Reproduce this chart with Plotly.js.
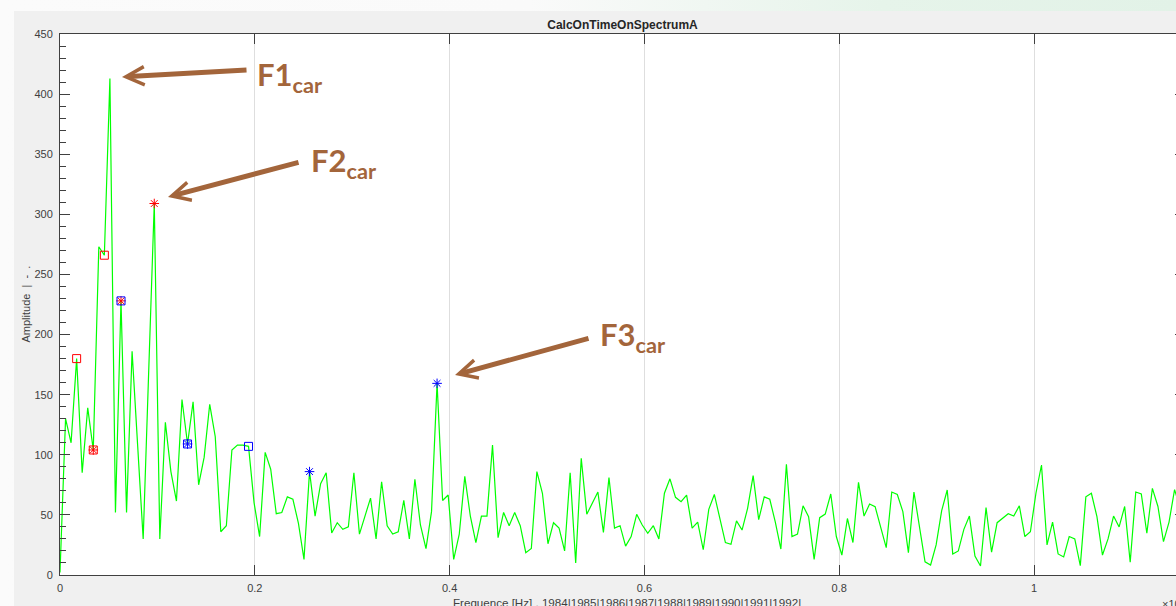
<!DOCTYPE html>
<html>
<head>
<meta charset="utf-8">
<script src="https://cdn.plot.ly/plotly-3.0.1.min.js"></script>
<style>
  html, body { margin: 0; padding: 0; width: 1176px; height: 606px; overflow: hidden;
    background: linear-gradient(90deg, #fbfbfb 0%, #fafafa 45%, #e6f4ea 75%, #e2f2e7 100%); }
  #chart { position: absolute; left: 14px; top: 11px; width: 1200px; height: 615px; }
</style>
</head>
<body>
<div id="chart"></div>
<script>
// ---- data ----
const chartTitle = "CalcOnTimeOnSpectrumA";
const xLabel = "Frequence [Hz] , 1984|1985|1986|1987|1988|1989|1990|1991|1992|";
const yLabel = "Amplitude  |  -  .";
const freqStep = 0.005693;   // spacing of the spectrum bins (axis units)
const amplitude = [
  2, 130, 110, 180, 85, 139, 104, 273, 266, 413,
  52, 228, 52, 186, 108, 30, 170, 309, 30, 127,
  86, 61.5, 146, 109, 144, 75, 98, 142, 115, 36,
  41, 104, 108, 108, 107, 60, 32, 102, 88, 51,
  52, 65, 63, 43, 13, 86, 49, 76, 85, 35,
  43.5, 38, 40, 85, 34, 48.5, 64, 30, 77.6, 41,
  34, 36, 62, 30, 79.6, 41.6, 22, 52.7, 159.4, 62,
  66.5, 13, 34, 82, 49, 27, 49, 49, 108, 31,
  52, 41, 52, 41, 18.6, 22, 86, 68, 26, 43.5,
  39, 20, 85, 10, 97, 50.5, 60, 69, 35.5, 81,
  39, 41, 24, 32, 50.5, 41.6, 34.7, 41, 30, 68,
  80, 64.6, 61, 66.5, 39, 44, 21, 54.6, 67, 48,
  27, 25.5, 45, 37.4, 55.5, 82.6, 46, 65, 63, 44,
  21.6, 92, 32, 34, 57.6, 48.5, 13, 47.7, 50.7, 67.4,
  32, 16.6, 47, 27, 77, 49, 59, 56.8, 40, 22.7,
  69, 67, 52.7, 18.6, 69, 40, 11, 8.3, 25, 53.5,
  70.7, 17.5, 20, 38, 49, 15.8, 7.5, 56, 19, 43.5,
  47, 51, 49, 57.6, 32, 36, 68, 91.5, 25, 44,
  17.5, 15, 32, 30, 7.8, 65, 68, 48.5, 16.6, 30,
  49, 40, 57, 10.6, 69, 67.4, 34.7, 72, 57, 27.7,
  44, 71, 56, 45
];
const redSquareIdx  = [3, 6, 8];
const redStarIdx    = [6, 11, 17];
const blueSquareIdx = [11, 23, 34];
const blueStarIdx   = [23, 45, 68];
const xTickVals = [0, 0.2, 0.4, 0.6, 0.8, 1];
const xTickText = ["0", "0.2", "0.4", "0.6", "0.8", "1"];
const yTickVals = [0, 50, 100, 150, 200, 250, 300, 350, 400, 450];
const peakLabels = ["F1", "F2", "F3"];

// ---- build ----
const freq = amplitude.map((_, i) => i * freqStep);
const pick = (idx) => ({ x: idx.map(i => freq[i]), y: idx.map(i => amplitude[i]) });

const brown = "#a3653b";
const traces = [
  { type: "scatter", mode: "lines", x: freq, y: amplitude,
    line: { color: "#00ff00", width: 1.2 }, hoverinfo: "skip" },
  Object.assign({ type: "scatter", mode: "markers",
    marker: { symbol: "square-open", size: 8, color: "#ff0000", line: { width: 1 } } }, pick(redSquareIdx)),
  Object.assign({ type: "scatter", mode: "markers",
    marker: { symbol: "asterisk-open", size: 8, color: "#ff0000", line: { width: 1 } } }, pick(redStarIdx)),
  Object.assign({ type: "scatter", mode: "markers",
    marker: { symbol: "square-open", size: 8, color: "#0000ff", line: { width: 1 } } }, pick(blueSquareIdx)),
  Object.assign({ type: "scatter", mode: "markers",
    marker: { symbol: "asterisk-open", size: 8, color: "#0000ff", line: { width: 1 } } }, pick(blueStarIdx))
];

// layout helpers: page pixel -> axis units
const px2x = (px) => (px - 60) / 974;
const px2y = (py) => (575 - py) / 1.2022;

const arrows = [
  { tip: [122, 77], tail: [248, 70] },
  { tip: [168, 197], tail: [300, 162] },
  { tip: [455, 375], tail: [590, 338] }
];
const labelPos = [[255, 77], [309, 163], [598, 336]];

const annotations = [];
arrows.forEach(a => {
  annotations.push({
    x: px2x(a.tip[0]), y: px2y(a.tip[1]), xref: "x", yref: "y",
    ax: px2x(a.tail[0]), ay: px2y(a.tail[1]), axref: "x", ayref: "y",
    text: "", showarrow: true, arrowhead: 5, arrowsize: 0.72, arrowwidth: 5,
    arrowcolor: brown, standoff: 0
  });
});
peakLabels.forEach((t, k) => {
  annotations.push({
    x: px2x(labelPos[k][0]), y: px2y(labelPos[k][1]), xref: "x", yref: "y",
    xanchor: "left", yanchor: "middle", showarrow: false,
    text: "<b>" + t + "<sub>car</sub></b>",
    font: { family: "Lato, 'Open Sans', sans-serif", size: 31, color: brown }
  });
});
annotations.push({
  x: 0.5, y: 0, xref: "paper", yref: "paper", yshift: -27, xshift: 4,
  xanchor: "center", yanchor: "middle", showarrow: false, text: xLabel,
  font: { family: "'Liberation Sans', Arial, sans-serif", size: 11.6, color: "#404040" }
});
annotations.push({
  x: 0, y: 0.5, xref: "paper", yref: "paper", xshift: -35,
  xanchor: "center", yanchor: "middle", showarrow: false, text: yLabel, textangle: -90,
  font: { family: "'Liberation Sans', Arial, sans-serif", size: 11, color: "#404040" }
});
annotations.push({
  x: 1, y: 0, xref: "paper", yref: "paper", xshift: -25, yshift: -28,
  xanchor: "left", yanchor: "middle", showarrow: false, text: "×10<sup>4</sup>",
  font: { family: "'Liberation Sans', Arial, sans-serif", size: 11, color: "#404040" }
});

const axisCommon = {
  showline: true, linecolor: "#404040", linewidth: 1, mirror: "ticks",
  ticks: "inside", ticklen: 10, tickcolor: "#404040", tickwidth: 1,
  zeroline: false, fixedrange: true,
  tickfont: { family: "'Liberation Sans', Arial, sans-serif", size: 11, color: "#404040" }
};

const layout = {
  width: 1200, height: 615,
  margin: { l: 46, r: 29, t: 23, b: 51 },
  paper_bgcolor: "#f0f0f0", plot_bgcolor: "#ffffff",
  showlegend: false,
  title: { text: "<b>" + chartTitle + "</b>", x: 0.5, xref: "paper", xanchor: "center",
    y: 1 - 14 / 615, yref: "container", yanchor: "middle",
    font: { family: "'Liberation Sans', Arial, sans-serif", size: 12, color: "#262626" } },
  xaxis: Object.assign({}, axisCommon, {
    range: [0, 1.155], tickmode: "array", tickvals: xTickVals, ticktext: xTickText,
    showgrid: true, gridcolor: "#dedede", gridwidth: 1, ticklabelstandoff: 3
  }),
  yaxis: Object.assign({}, axisCommon, {
    range: [0, 450], tickmode: "array", tickvals: yTickVals, showgrid: false,
    ticklabelstandoff: 4,
    minor: { dtick: 10, ticks: "inside", ticklen: 6, tickcolor: "#404040", showgrid: false }
  }),
  annotations: annotations
};

Plotly.newPlot("chart", traces, layout, { staticPlot: true, displayModeBar: false });
</script>
</body>
</html>
